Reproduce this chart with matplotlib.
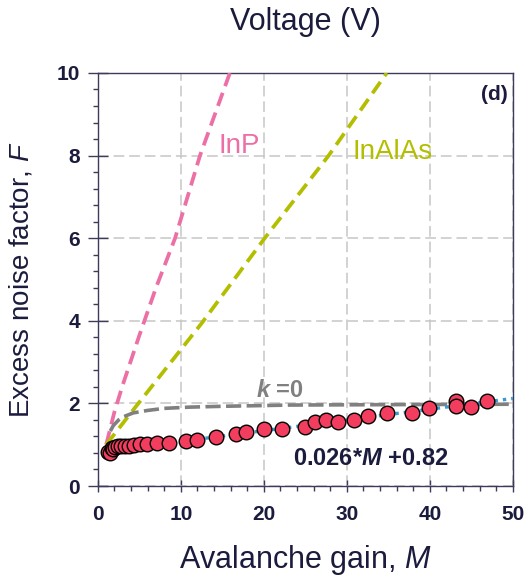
import matplotlib
matplotlib.use('Agg')
import matplotlib.pyplot as plt
from matplotlib.ticker import MultipleLocator

plt.rcParams['font.family'] = 'Liberation Sans'
plt.rcParams['mathtext.fontset'] = 'custom'
plt.rcParams['mathtext.rm'] = 'Liberation Sans'
plt.rcParams['mathtext.it'] = 'Liberation Sans:italic'
plt.rcParams['mathtext.bf'] = 'Liberation Sans:bold'
plt.rcParams['mathtext.bfit'] = 'Liberation Sans:italic:bold'

navy = '#1b1b3d'
spine_col = '#3c3c5a'

# measured excess noise factor vs gain
gain = [1.25, 1.45, 1.65, 1.85, 2.05, 2.4, 2.8, 3.3, 3.8, 4.3, 5.1, 5.9, 7.1, 8.6,
        10.6, 12.0, 14.2, 16.6, 17.9, 20.0, 22.2, 24.9, 26.1, 27.5, 28.9, 30.8,
        32.6, 34.8, 37.9, 39.9, 43.2, 43.2, 44.9, 46.9]
noise = [0.83, 0.80, 0.92, 0.90, 0.95, 0.96, 0.96, 0.97, 0.98, 0.99, 1.01, 1.01, 1.03, 1.03,
         1.09, 1.11, 1.19, 1.25, 1.31, 1.37, 1.37, 1.42, 1.56, 1.60, 1.54, 1.60,
         1.70, 1.77, 1.76, 1.90, 2.07, 1.94, 1.91, 2.06]

# reference curves
inp_m = [1, 2, 3, 5, 7, 9.3, 12.3, 15.9]
inp_f = [1, 1.8, 2.45, 3.65, 4.8, 6.0, 8.0, 10.0]
inalas_m = [1, 4.25, 12.5, 20.1, 27.8, 34.8]
inalas_f = [1, 1.84, 3.94, 6.0, 8.0, 10.0]
k0_m = [1.5, 1.85, 2.5, 3, 4.25, 6, 8, 11.1, 15, 23.1, 35, 50]
k0_f = [1.33, 1.46, 1.6, 1.67, 1.77, 1.83, 1.88, 1.91, 1.93, 1.96, 1.97, 1.98]
fit_m = [1, 50]
fit_f = [0.846, 2.12]

fig = plt.figure(figsize=(5.32, 5.81), dpi=100)
ax = fig.add_axes([0.184, 0.1635, 0.7801, 0.7109])

ax.plot(inp_m, inp_f, color='#ec6fa5', lw=2.7, linestyle=(0, (3.7, 1.9)), zorder=3)
ax.plot(inalas_m, inalas_f, color='#b3be00', lw=2.7, linestyle=(0, (3.7, 1.9)), zorder=3)
ax.plot(k0_m, k0_f, color='#808080', lw=2.6, linestyle=(0, (4.2, 1.5)), zorder=3)
ax.plot(fit_m, fit_f, color='#3a9ad0', lw=2.4, linestyle=(0, (1.0, 1.5)), zorder=3)
ax.plot(gain, noise, 'o', ms=10.5, mfc='#f23d5f', mec='black', mew=1.0, zorder=4, clip_on=False)

ax.set_xlim(0, 50)
ax.set_ylim(0, 10)
ax.xaxis.set_major_locator(MultipleLocator(10))
ax.xaxis.set_minor_locator(MultipleLocator(2))
ax.yaxis.set_major_locator(MultipleLocator(2))
ax.yaxis.set_minor_locator(MultipleLocator(0.4))

ax.set_axisbelow(True)
ax.grid(True, which='major', color='#c6c6c6', lw=1.1, linestyle=(0, (7, 3.2)))

for s in ax.spines.values():
    s.set_color(spine_col)
    s.set_linewidth(1.0)

ax.tick_params(which='both', color=spine_col, labelcolor=navy, labelsize=15, width=1.0)
ax.tick_params(axis='y', which='major', direction='inout', length=14, pad=6)
ax.tick_params(axis='x', which='major', direction='inout', length=9, pad=9)
ax.tick_params(which='minor', direction='out', length=3.5)
for lbl in ax.get_xticklabels() + ax.get_yticklabels():
    lbl.set_fontweight('bold')

ax.set_title('Voltage (V)', fontsize=22, color=navy, pad=31)
ax.set_xlabel('Avalanche gain, $\\mathit{M}$', fontsize=22, color=navy, labelpad=14)
ax.set_ylabel('Excess noise factor, $\\mathit{F}$', fontsize=20, color=navy, labelpad=16)

ax.text(14.5, 8.06, 'InP', color='#ec6fa5', fontsize=20)
ax.text(30.7, 7.92, 'InAlAs', color='#b3be00', fontsize=20)
ax.text(19.1, 2.15, '$\\mathbfit{k}$ =0', color='#808080', fontsize=17, fontweight='bold')
ax.text(23.5, 0.51, '0.026*$\\mathbfit{M}$ +0.82', color=navy, fontsize=17, fontweight='bold')
ax.text(49.4, 9.7, '(d)', color=navy, fontsize=15, fontweight='bold', ha='right', va='top')

fig.savefig('out.png', dpi=100)
